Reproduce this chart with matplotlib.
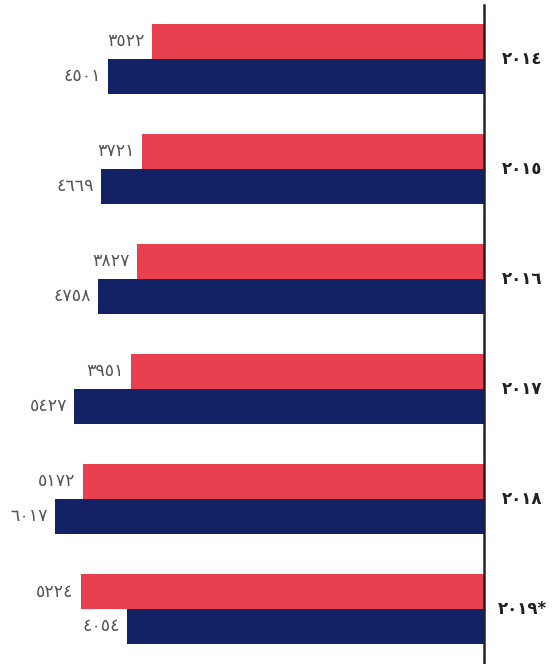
import matplotlib
matplotlib.use("Agg")
import matplotlib.pyplot as plt
import matplotlib.transforms as mtransforms
import numpy as np

# عدد السنوات والقيم
years = ["2014", "2015", "2016", "2017", "2018", "2019*"]
red_vals = [3522, 3721, 3827, 3951, 5172, 5224]
navy_vals = [4501, 4669, 4758, 5427, 6017, 4054]

RED = "#E8404E"
NAVY = "#132165"
INK = "#222222"
MUTED = "#555555"

XMIN, XMAX = 560, 8170
AR_DIGITS = str.maketrans("0123456789", "٠١٢٣٤٥٦٧٨٩")


def ar(s):
    return str(s).translate(AR_DIGITS)


fig = plt.figure(figsize=(5.6, 6.64), dpi=100)
ax = fig.add_axes([0, 0, 484 / 560, 1])

y = np.arange(len(years))
h = 0.318
red = np.array(red_vals)
navy = np.array(navy_vals)
ax.barh(y - h / 2, red - XMIN, left=XMIN, height=h, color=RED, zorder=2)
ax.barh(y + h / 2, navy - XMIN, left=XMIN, height=h, color=NAVY, zorder=2)

ax.set_xscale("log")
ax.set_xlim(XMAX, XMIN)
ax.set_ylim(5.5, -0.536)

for yi, v in zip(y - h / 2, red_vals):
    ax.annotate(ar(v), (v, yi), xytext=(-5, 0), textcoords="offset points",
                ha="right", va="center", fontsize=12.5, color=MUTED)
for yi, v in zip(y + h / 2, navy_vals):
    ax.annotate(ar(v), (v, yi), xytext=(-5, 0), textcoords="offset points",
                ha="right", va="center", fontsize=12.5, color=MUTED)

trans = mtransforms.blended_transform_factory(fig.transFigure, ax.transData)
for yi, yr in zip(y, years):
    fig.text(0.932, yi, ar(yr), transform=trans, ha="center", va="center",
             fontsize=12, fontweight="bold", color=INK)

ax.axvline(XMIN, ymin=0, ymax=1 - 5 / 664, color=INK, lw=1.8, zorder=3,
           clip_on=False)
for s in ax.spines.values():
    s.set_visible(False)
ax.set_xticks([])
ax.set_yticks([])
ax.xaxis.set_minor_locator(matplotlib.ticker.NullLocator())

fig.savefig("out.png", dpi=100, facecolor="white")
